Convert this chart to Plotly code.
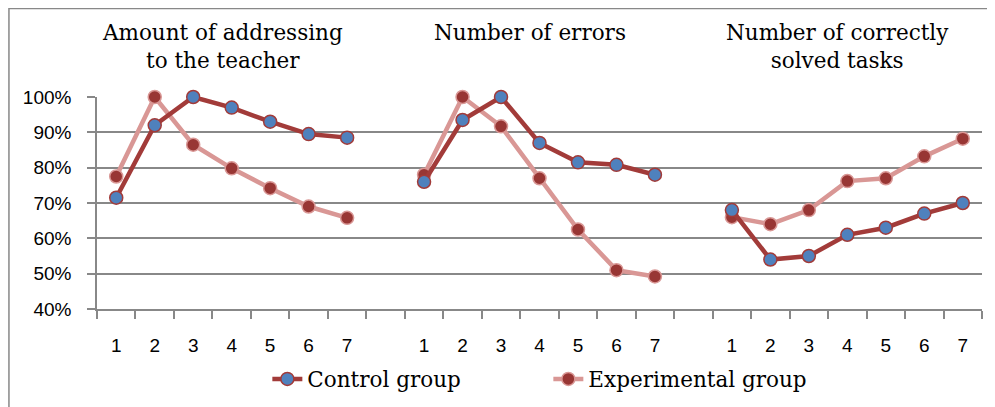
import plotly.graph_objects as go

# three panels of 7 stages each, separated by an empty slot
panel_titles = ["Amount of addressing<br>to the teacher", "Number of errors",
                "Number of correctly<br>solved tasks"]
stages = ["1", "2", "3", "4", "5", "6", "7"]

control_addressing = [71.5, 92, 100, 97, 93, 89.5, 88.5]
control_errors = [76, 93.5, 100, 87, 81.5, 80.8, 78]
control_tasks = [68, 54, 55, 61, 63, 67, 70]

exper_addressing = [77.5, 100, 86.5, 79.8, 74.2, 69, 65.8]
exper_errors = [78, 100, 91.7, 77, 62.5, 51, 49.2]
exper_tasks = [66, 64, 68, 76.2, 77, 83.2, 88.2]

y_ticks = [40, 50, 60, 70, 80, 90, 100]
y_labels = [f"{v}%" for v in y_ticks]

ctrl_line = "#a23b39"
ctrl_fill = "#4f81bd"
exp_line = "#d99795"
exp_fill = "#983634"
grid_col = "#888888"

serif = "DejaVu Serif"
sans = "Liberation Sans"

# slot positions on a numeric x axis
panel_x = [[p * 8 + i for i in range(7)] for p in range(3)]
all_x = [x for px in panel_x for x in px]
all_labels = stages * 3

fig = go.Figure()

series = [
    ("Control group", [control_addressing, control_errors, control_tasks], ctrl_line, ctrl_fill),
    ("Experimental group", [exper_addressing, exper_errors, exper_tasks], exp_line, exp_fill),
]
# draw experimental first so control sits on top where they cross
for name, data, lc, fc in series[::-1]:
    for p in range(3):
        fig.add_trace(go.Scatter(
            x=panel_x[p], y=data[p], mode="lines+markers", name=name,
            legendgroup=name, showlegend=(p == 0),
            line=dict(color=lc, width=4.5),
            marker=dict(size=13, color=fc, line=dict(color=lc, width=1.5)),
            cliponaxis=False,
        ))

for p, t in enumerate(panel_titles):
    fig.add_annotation(
        x=p * 8 + 3 - 0.25, y=1.375, xref="x", yref="paper",
        text=t, showarrow=False, xanchor="center", yanchor="top",
        font=dict(family=serif, size=21.5, color="#000000"),
    )

# outer chart border
fig.add_shape(type="rect", xref="paper", yref="paper",
              x0=-0.0995, x1=1.05, y0=-0.7, y1=1.417,
              line=dict(color=grid_col, width=1.5), layer="below")

fig.update_layout(
    width=987, height=399,
    margin=dict(l=89, r=13, t=89, b=98, autoexpand=False),
    plot_bgcolor="white", paper_bgcolor="white",
    showlegend=True,
    legend=dict(
        orientation="h", x=0.51, xanchor="center", y=-0.33, yanchor="middle",
        font=dict(family=serif, size=21.5, color="#000000"),
        entrywidth=236, entrywidthmode="pixels",
        traceorder="reversed",
    ),
)

fig.update_xaxes(
    range=[-0.5, 22.5],
    tickmode="array", tickvals=all_x, ticktext=all_labels,
    ticks="outside", ticklen=18, tickcolor="rgba(0,0,0,0)",
    tickfont=dict(family=sans, size=19, color="#000000"),
    showgrid=False, zeroline=False, automargin=False,
    showline=True, linecolor=grid_col, linewidth=1.5,
    minor=dict(tickmode="linear", tick0=-0.5, dtick=1, ticks="outside",
               ticklen=8, tickcolor=grid_col, tickwidth=1.5, showgrid=False),
)

fig.update_yaxes(
    range=[40, 100], tickmode="array", tickvals=y_ticks, ticktext=y_labels,
    ticks="outside", ticklen=8, tickcolor=grid_col, tickwidth=1.5,
    ticklabelstandoff=12, automargin=False,
    tickfont=dict(family=sans, size=19, color="#000000"),
    showgrid=True, gridcolor=grid_col, gridwidth=1.5,
    zeroline=False,
    showline=True, linecolor=grid_col, linewidth=1.5,
)

fig.write_html("out.html")
